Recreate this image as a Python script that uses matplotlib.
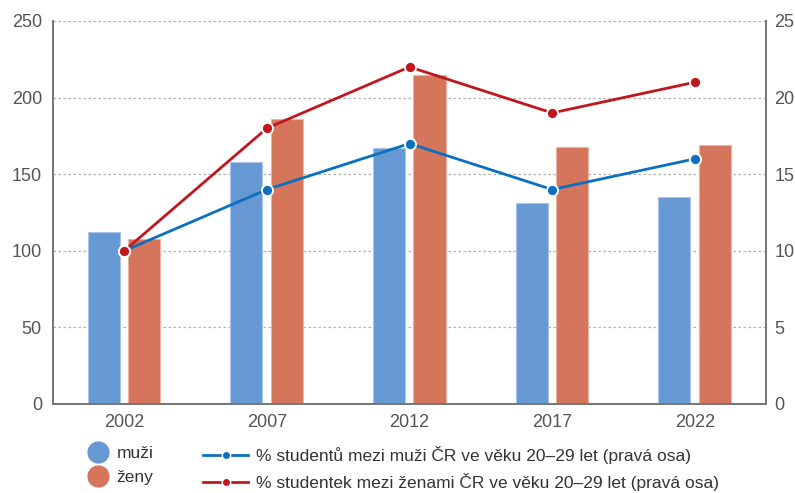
import numpy as np
import matplotlib
matplotlib.use('Agg')
import matplotlib.pyplot as plt
from matplotlib.lines import Line2D

plt.rcParams['font.family'] = ['Liberation Sans', 'DejaVu Sans']

years = ['2002', '2007', '2012', '2017', '2022']
muzi = [112, 158, 167, 131, 135]
zeny = [108, 186, 215, 168, 169]
pct_muzi = [10, 14, 17, 14, 16]
pct_zeny = [10, 18, 22, 19, 21]

c_muzi = '#6699d3'
c_zeny = '#d5755c'
c_line_m = '#0a70bf'
c_line_z = '#c0171f'
grey = '#555555'

fig = plt.figure(figsize=(7.95, 4.93), dpi=100)
ax = fig.add_axes([53/795, 89/493, 713/795, 383/493])
ax2 = ax.twinx()

x = np.arange(len(years))
w = 0.225
ax.bar(x - 0.144, muzi, width=w, color=c_muzi, edgecolor='#a9c4e8', linewidth=0.8, zorder=2)
ax.bar(x + 0.14, zeny, width=w, color=c_zeny, edgecolor='#eab3a5', linewidth=0.8, zorder=2)

ax2.plot(x, pct_muzi, color=c_line_m, lw=2, marker='o', ms=8,
         mfc=c_line_m, mec='white', mew=1.3, zorder=3)
ax2.plot(x, pct_zeny, color=c_line_z, lw=2, marker='o', ms=8,
         mfc=c_line_z, mec='white', mew=1.3, zorder=3)

ax.set_xlim(-0.5, 4.5)
ax.set_ylim(0, 250)
ax2.set_ylim(0, 25)
ax.set_yticks(range(0, 251, 50))
ax2.set_yticks(range(0, 26, 5))
ax.set_xticks(x)
ax.set_xticklabels(years)
ax.yaxis.grid(True, linestyle=(0, (2, 2)), color='#b0b0b0', lw=0.9, zorder=0)
ax.set_axisbelow(True)

for a in (ax, ax2):
    a.spines['top'].set_visible(False)
    for s in ('left', 'right', 'bottom'):
        a.spines[s].set_color('#777777')
        a.spines[s].set_linewidth(1.3)
    a.tick_params(length=0, labelsize=13, labelcolor=grey)
ax.tick_params(axis='y', pad=8)
ax2.tick_params(axis='y', pad=6)
ax.tick_params(axis='x', pad=7)

h1 = [Line2D([], [], ls='', marker='o', ms=15, color=c_muzi),
      Line2D([], [], ls='', marker='o', ms=15, color=c_zeny)]
fig.legend(h1, ['muži', 'ženy'], loc='upper left', bbox_to_anchor=(88/795, 1 - 446/493),
           frameon=False, fontsize=12.5, labelcolor='#333333', handlelength=1.2,
           handletextpad=0.45, labelspacing=0.5, borderpad=0, borderaxespad=0)

h2 = [Line2D([], [], color=c_line_m, lw=2, marker='o', ms=6, mec='white', mew=1),
      Line2D([], [], color=c_line_z, lw=2, marker='o', ms=6, mec='white', mew=1)]
fig.legend(h2, ['% studentů mezi muži ČR ve věku 20–29 let (pravá osa)',
                '% studentek mezi ženami ČR ve věku 20–29 let (pravá osa)'],
           loc='upper left', bbox_to_anchor=(203/795, 1 - 446/493),
           frameon=False, fontsize=12.5, labelcolor='#333333', handlelength=2.6,
           handletextpad=0.45, labelspacing=0.5, borderpad=0, borderaxespad=0)

fig.savefig('out.png', dpi=100)
